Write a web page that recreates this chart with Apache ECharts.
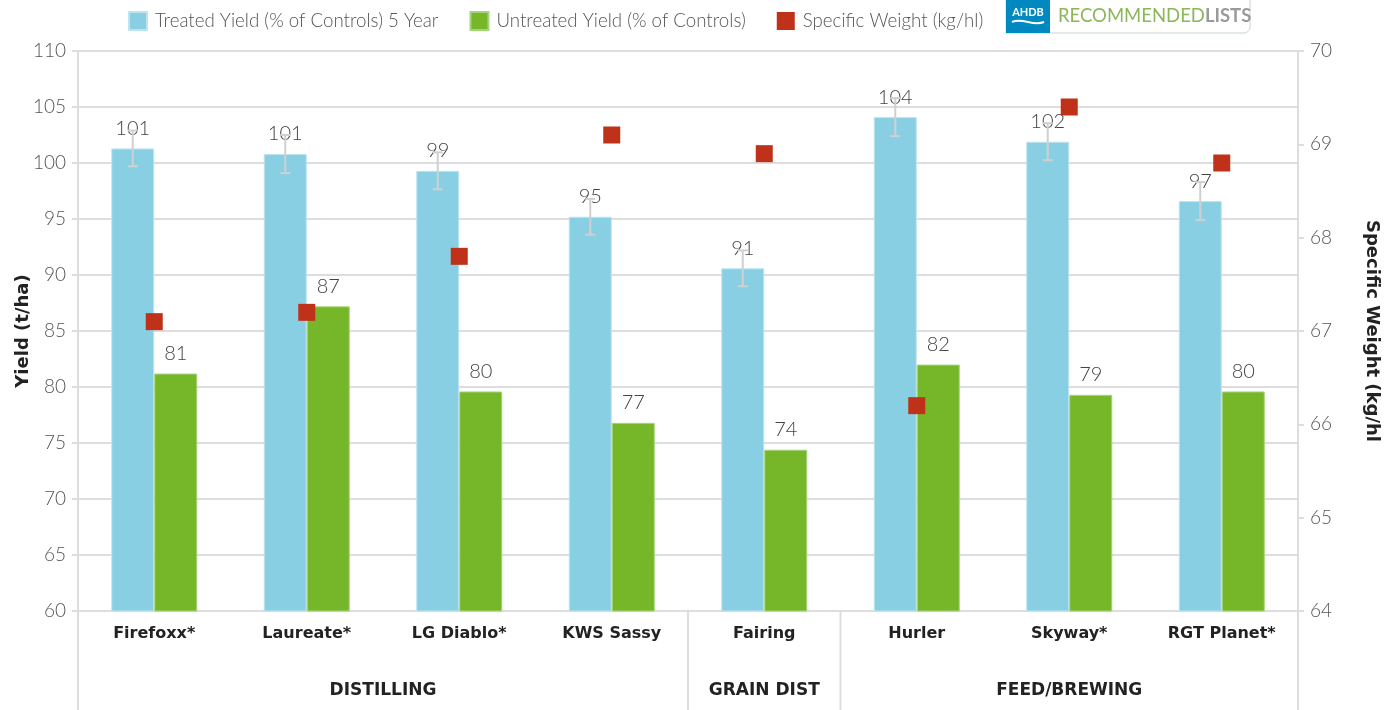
<!DOCTYPE html>
<html>
<head>
<meta charset="utf-8">
<script src="https://cdn.jsdelivr.net/npm/echarts@6/dist/echarts.min.js"></script>
<style>
  html, body { margin: 0; padding: 0; background: #fff; }
  #chart { width: 1390px; height: 710px; }
</style>
</head>
<body>
<div id="chart"></div>
<script>
// varieties and their market groups
var varieties = ['Firefoxx*', 'Laureate*', 'LG Diablo*', 'KWS Sassy', 'Fairing', 'Hurler', 'Skyway*', 'RGT Planet*'];
var groupNames = ['DISTILLING', 'GRAIN DIST', 'FEED/BREWING'];
var groupSizes = [4, 1, 3];

// yields (% of controls)
var treatedYield = [101.3, 100.8, 99.3, 95.2, 90.6, 104.1, 101.9, 96.6];
var treatedError = [1.6, 1.7, 1.65, 1.6, 1.6, 1.7, 1.65, 1.7];
var untreatedYield = [81.2, 87.2, 79.6, 76.8, 74.4, 82.0, 79.3, 79.6];

// specific weight (kg/hl)
var specificWeight = [67.1, 67.2, 67.8, 69.1, 68.9, 66.2, 69.4, 68.8];

var FONT = 'Lato, "Open Sans", sans-serif';
var BOLD = '"DejaVu Sans", sans-serif';
var chart = echarts.init(document.getElementById('chart'));

var option = {
    animation: false,
    textStyle: { fontFamily: FONT },
    legend: {
        left: 123,
        top: 6,
        itemWidth: 18,
        itemHeight: 18,
        itemGap: 31,
        icon: 'rect',
        textStyle: { fontSize: 18.7, fontWeight: 300, color: '#555', fontFamily: FONT, padding: [0, 0, 0, 3] },
        data: ['Treated Yield (% of Controls) 5 Year', 'Untreated Yield (% of Controls)', 'Specific Weight (kg/hl)']
    },
    grid: { left: 78, right: 92, top: 51, bottom: 99, outerBoundsMode: 'none', containLabel: false },
    xAxis: {
        type: 'category',
        data: varieties,
        axisLine: { lineStyle: { color: '#ddd', width: 2 } },
        axisTick: { show: false },
        axisLabel: { fontSize: 16, fontWeight: 'bold', color: '#222', margin: 15, fontFamily: BOLD }
    },
    yAxis: [{
        type: 'value',
        min: 60, max: 110, interval: 5,
        name: 'Yield (t/ha)',
        nameLocation: 'middle',
        nameGap: 46,
        nameMoveOverlap: false,
        nameTextStyle: { fontSize: 18, fontWeight: 'bold', color: '#222', fontFamily: BOLD },
        axisLine: { show: true, lineStyle: { color: '#ddd', width: 2 } },
        axisTick: { show: true, length: 6, lineStyle: { color: '#ddd', width: 2 } },
        axisLabel: { fontSize: 19, fontWeight: 300, color: '#555', margin: 12 },
        splitLine: { lineStyle: { color: '#ddd', width: 2 } }
    }, {
        type: 'value',
        min: 64, max: 70, interval: 1,
        name: 'Specific Weight (kg/hl',
        nameLocation: 'middle',
        nameRotate: -90,
        nameGap: 65,
        nameTextStyle: { fontSize: 18, fontWeight: 'bold', color: '#222', fontFamily: BOLD },
        axisLine: { show: true, lineStyle: { color: '#ddd', width: 2 } },
        axisTick: { show: true, length: 6, lineStyle: { color: '#ddd', width: 2 } },
        axisLabel: { fontSize: 19, fontWeight: 300, color: '#555', margin: 12 },
        splitLine: { show: false }
    }],
    series: [{
        name: 'Treated Yield (% of Controls) 5 Year',
        type: 'bar',
        data: treatedYield,
        barWidth: 43,
        barGap: '0%',
        itemStyle: { color: '#89cfe4', borderColor: '#bfe4f0', borderWidth: 1 },
        label: {
            show: true, position: 'top', distance: 10,
            fontSize: 20, fontWeight: 300, color: '#444',
            formatter: function (p) { return Math.round(p.value); }
        }
    }, {
        name: 'Untreated Yield (% of Controls)',
        type: 'bar',
        data: untreatedYield,
        barWidth: 43,
        itemStyle: { color: '#76b72a', borderColor: '#a6d47a', borderWidth: 1 },
        label: {
            show: true, position: 'top', distance: 10,
            fontSize: 20, fontWeight: 300, color: '#444',
            formatter: function (p) { return Math.round(p.value); }
        }
    }, {
        name: 'errors',
        type: 'custom',
        z: 5,
        data: treatedYield.map(function (v, i) { return [i, v - treatedError[i], v + treatedError[i]]; }),
        renderItem: function (params, api) {
            var lo = api.coord([api.value(0), api.value(1)]);
            var hi = api.coord([api.value(0), api.value(2)]);
            var band = api.size([1, 0])[0];
            var x = lo[0] - band * 0.1410;
            var cap = 5;
            var st = { stroke: '#d0d0d0', lineWidth: 2 };
            return {
                type: 'group',
                children: [
                    { type: 'line', shape: { x1: x, y1: lo[1], x2: x, y2: hi[1] }, style: st },
                    { type: 'line', shape: { x1: x - cap, y1: lo[1], x2: x + cap, y2: lo[1] }, style: st },
                    { type: 'line', shape: { x1: x - cap, y1: hi[1], x2: x + cap, y2: hi[1] }, style: st }
                ]
            };
        }
    }, {
        name: 'Specific Weight (kg/hl)',
        type: 'scatter',
        yAxisIndex: 1,
        z: 10,
        data: specificWeight,
        symbol: 'rect',
        symbolSize: 17,
        itemStyle: { color: '#c0311a', opacity: 1 }
    }],
    graphic: []
};

chart.setOption(option);

// group labels and separators below the category axis
var c0 = chart.convertToPixel({ xAxisIndex: 0 }, 0);
var c1 = chart.convertToPixel({ xAxisIndex: 0 }, 1);
var band = c1 - c0;
var yBase = chart.convertToPixel({ yAxisIndex: 0 }, 60);
var elements = [];
var start = 0;
var boundaries = [c0 - band / 2];
groupNames.forEach(function (g, k) {
    var left = c0 - band / 2 + start * band;
    var right = left + groupSizes[k] * band;
    boundaries.push(right);
    elements.push({
        type: 'text',
        x: (left + right) / 2,
        y: yBase + 80,
        style: { text: g, fontSize: 17, fontWeight: 'bold', fill: '#222', fontFamily: BOLD, align: 'center', verticalAlign: 'middle' }
    });
    start += groupSizes[k];
});
boundaries.forEach(function (bx) {
    elements.push({
        type: 'line',
        shape: { x1: bx, y1: yBase, x2: bx, y2: 710 },
        style: { stroke: '#ddd', lineWidth: 2 }
    });
});

// recommended lists badge
elements.push({
    type: 'group', x: 1006, y: 0,
    children: [
        { type: 'rect', shape: { x: 0, y: -1, width: 244, height: 34, r: [0, 0, 6, 0] }, style: { fill: '#fff', stroke: '#c8d4d8', lineWidth: 1 } },
        { type: 'rect', shape: { x: 0, y: -1, width: 44, height: 34 }, style: { fill: '#0089c0' } },
        { type: 'text', x: 22, y: 12, style: { text: 'AHDB', fill: '#fff', fontSize: 11, fontWeight: 'bold', fontFamily: FONT, align: 'center', verticalAlign: 'middle' } },
        { type: 'bezierCurve', shape: { x1: 6, y1: 22, x2: 38, y2: 22, cpx1: 17, cpy1: 17, cpx2: 27, cpy2: 27 }, style: { stroke: '#fff', lineWidth: 2, fill: null } },
        {
            type: 'text', x: 52, y: 16,
            style: {
                text: '{a|RECOMMENDED}{b|LISTS}',
                verticalAlign: 'middle',
                rich: {
                    a: { fill: '#8bb75a', fontSize: 18.5, fontFamily: FONT },
                    b: { fill: '#9a9a9a', fontSize: 18.5, fontWeight: 'bold', fontFamily: FONT }
                }
            }
        }
    ]
});

chart.setOption({ graphic: elements });
</script>
</body>
</html>
